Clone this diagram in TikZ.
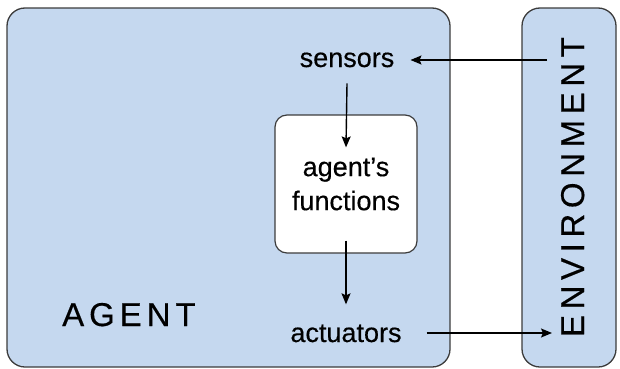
\documentclass[tikz,border=0pt]{standalone}
\usepackage{fontspec}
\setmainfont{Liberation Sans}
\newfontfamily\heavyfont[FakeBold=0.4]{Liberation Sans}
\newfontfamily\spacedfont[LetterSpace=15,FakeBold=0.4]{Liberation Sans}
\newfontfamily\envfont[LetterSpace=17,FakeBold=0.4]{Liberation Sans}
\usetikzlibrary{arrows.meta}
\definecolor{boxblue}{RGB}{197,216,239}
\definecolor{edgegray}{RGB}{60,60,60}
\tikzset{
  panel/.style={draw=edgegray, line width=1.3pt, fill=boxblue, rounded corners=18pt},
  funcbox/.style={draw=edgegray, line width=1.2pt, fill=white, rounded corners=12pt,
    minimum width=142pt, minimum height=138pt, inner sep=0pt, align=center,
    font=\fontsize{27}{34}\selectfont\heavyfont},
  lbl/.style={inner sep=0pt, font=\fontsize{27}{32}\selectfont\heavyfont},
  biglbl/.style={inner sep=0pt, font=\fontsize{33}{38}\selectfont\spacedfont},
  envlbl/.style={inner sep=0pt, font=\fontsize{33}{38}\selectfont\envfont},
  arr/.style={-{Stealth[length=11pt,width=9pt,inset=2pt]}, line width=1.4pt, black}
}
\begin{document}
\begin{tikzpicture}[x=1pt,y=1pt]
\useasboundingbox (0,0) rectangle (620,368);
\fill[white] (0,0) rectangle (620,368);
\draw[panel] (7,1) rectangle (450,360);
\draw[panel] (522,1) rectangle (616,360);
\node[funcbox] (func) at (346,184) {agent’s\\functions};
\node[lbl, anchor=base] (sens) at (347,301) {sensors};
\node[lbl, anchor=base] (act) at (346,26) {actuators};
\node[biglbl, anchor=base west] (agent) at (62,42) {AGENT};
\node[envlbl, anchor=base, rotate=90] (env) at (584,181) {ENVIRONMENT};
\coordinate (envin) at (547,308);
\coordinate (envout) at (552,35);
\draw[arr] (envin) -- ([xshift=16pt]sens.east |- envin);
\draw[arr] ([yshift=-16pt]sens.south) -- ([yshift=-33pt]func.north);
\draw[arr] ([yshift=13pt]func.south) -- ([yshift=20pt]act.north);
\draw[arr] ([xshift=25pt]act.east |- envout) -- (envout);
\end{tikzpicture}
\end{document}
